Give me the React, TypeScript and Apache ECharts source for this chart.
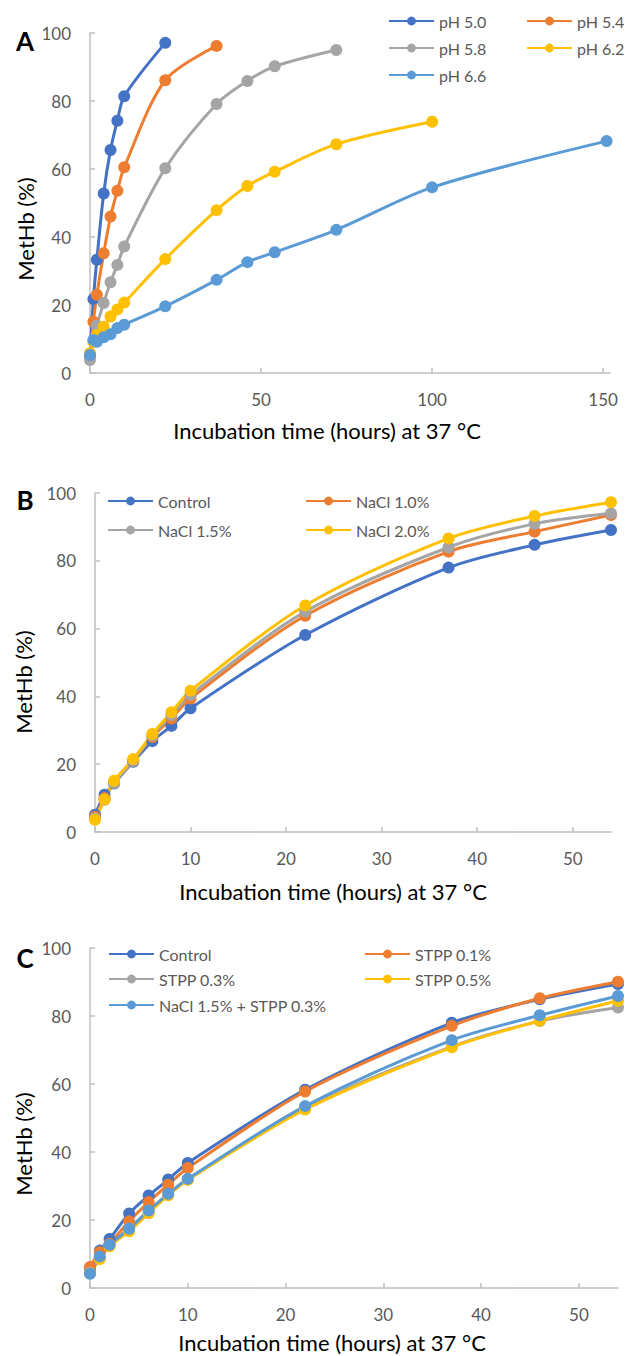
import React, { useEffect, useRef } from "react";
import * as echarts from "echarts";

// ---------- Data ----------
const TIME_A = [0, 1, 2, 4, 6, 8, 10, 22, 37, 46, 54, 72, 100, 151];
const PH_NAMES = ["pH 5.0", "pH 5.4", "pH 5.8", "pH 6.2", "pH 6.6"];
const PH50 = [5.2, 21.8, 33.3, 52.8, 65.6, 74.2, 81.4, 97.1];
const PH54 = [5.0, 15.1, 23.0, 35.2, 46.0, 53.6, 60.5, 86.1, 96.2];
const PH58 = [3.8, 9.5, 14.0, 20.6, 26.7, 31.8, 37.2, 60.2, 79.1, 85.9, 90.2, 95.0];
const PH62 = [5.8, 9.2, 11.2, 13.6, 16.6, 18.7, 20.7, 33.5, 47.9, 55.0, 59.2, 67.3, 73.9];
const PH66 = [5.3, 9.7, 9.2, 10.5, 11.4, 13.2, 14.2, 19.6, 27.4, 32.6, 35.5, 42.1, 54.6, 68.2];

const TIME_BC = [0, 1, 2, 4, 6, 8, 10, 22, 37, 46, 54];
const NACL_NAMES = ["Control", "NaCl 1.0%", "NaCl 1.5%", "NaCl 2.0%"];
const B_CONTROL = [5.1, 11.0, 14.3, 20.7, 26.8, 31.3, 36.5, 58.1, 78.0, 84.7, 89.1];
const B_NACL10 = [4.5, 10.0, 14.5, 21.0, 28.0, 33.5, 39.4, 63.8, 82.7, 88.6, 93.5];
const B_NACL15 = [4.0, 9.5, 14.5, 21.0, 28.5, 34.5, 40.4, 65.0, 84.0, 90.9, 94.0];
const B_NACL20 = [3.6, 9.6, 15.1, 21.5, 28.9, 35.3, 41.7, 66.8, 86.6, 93.2, 97.3];

const STPP_NAMES = ["Control", "STPP 0.1%", "STPP 0.3%", "STPP 0.5%", "NaCl 1.5% + STPP 0.3%"];
const C_CONTROL = [5.5, 11.0, 14.4, 21.9, 27.2, 31.9, 36.8, 58.3, 78.0, 84.9, 89.4];
const C_STPP01 = [6.2, 10.5, 13.0, 19.6, 25.3, 30.4, 35.3, 57.8, 77.1, 85.2, 90.1];
const C_STPP03 = [4.5, 9.0, 12.5, 17.5, 22.5, 27.5, 32.0, 53.0, 71.0, 78.5, 82.5];
const C_STPP05 = [4.3, 8.5, 12.3, 16.7, 22.0, 27.3, 31.8, 52.5, 70.8, 78.6, 84.5];
const C_MIX = [4.2, 9.3, 12.7, 17.4, 22.8, 27.7, 32.1, 53.5, 72.9, 80.2, 85.9];

const Y_TICKS = [0, 20, 40, 60, 80, 100];
const X_TICKS_A = [0, 50, 100, 150];
const X_TICKS_BC = [0, 10, 20, 30, 40, 50];

const X_TITLE = "Incubation time (hours) at 37 °C";
const Y_TITLE = "MetHb (%)";

// ---------- Styles ----------
const C_BLUE = "#4472C4";
const C_ORANGE = "#ED7D31";
const C_GRAY = "#A5A5A5";
const C_YELLOW = "#FFC000";
const C_LBLUE = "#5B9BD5";
const FONT = "Lato, 'Open Sans', sans-serif";
const AXIS_COLOR = "#BFBFBF";
const LABEL_COLOR = "#595959";

const zip = (t: number[], v: number[]) => v.map((y, i) => [t[i], y]);

function mkSeries(name: string, color: string, data: number[][], gridIndex: number) {
  return {
    type: "line",
    name,
    xAxisIndex: gridIndex,
    yAxisIndex: gridIndex,
    data,
    smooth: 0.3,
    symbol: "circle",
    symbolSize: 12,
    showSymbol: true,
    lineStyle: { color, width: 3 },
    itemStyle: { color, borderWidth: 0 },
    emphasis: { disabled: true },
  };
}

function mkX(gridIndex: number, max: number, ticks: number[]) {
  return {
    type: "value",
    gridIndex,
    min: 0,
    max,
    splitLine: { show: false },
    axisLine: { show: true, onZero: false, lineStyle: { color: AXIS_COLOR, width: 1.5 } },
    axisTick: { show: true, inside: true, length: 5, customValues: ticks, lineStyle: { color: AXIS_COLOR, width: 1.5 } },
    axisLabel: { customValues: ticks, color: LABEL_COLOR, fontSize: 17, fontFamily: FONT, margin: 18 },
  };
}

function mkY(gridIndex: number) {
  return {
    type: "value",
    gridIndex,
    min: 0,
    max: 100,
    interval: 20,
    splitLine: { show: false },
    axisLine: { show: true, lineStyle: { color: AXIS_COLOR, width: 1.5 } },
    axisTick: { show: true, inside: true, length: 5, customValues: Y_TICKS, lineStyle: { color: AXIS_COLOR, width: 1.5 } },
    axisLabel: { customValues: Y_TICKS, color: LABEL_COLOR, fontSize: 17, fontFamily: FONT, margin: 19 },
  };
}

function mkLegend(name: string, left: number, rowY: number) {
  return {
    data: [name],
    left,
    top: rowY - 9,
    padding: 0,
    itemWidth: 45,
    itemHeight: 11,
    itemGap: 0,
    selectedMode: false,
    textStyle: { color: LABEL_COLOR, fontSize: 16, fontFamily: FONT, padding: [0, 0, 0, 0] },
  };
}

function txt(text: string, x: number, y: number, size: number, opts: any = {}) {
  return {
    type: "text",
    x,
    y,
    rotation: opts.rotation || 0,
    style: {
      text,
      fill: opts.fill || "#000",
      font: `${opts.weight || "normal"} ${size}px ${FONT}`,
      align: "center",
      verticalAlign: "middle",
    },
  };
}

export default function App() {
  const ref = useRef<HTMLDivElement>(null);
  useEffect(() => {
    if (!ref.current) return;
    const chart = echarts.init(ref.current, undefined, { renderer: "svg" });
    const option = {
      animation: false,
      backgroundColor: "#ffffff",
      grid: [
        { left: 90, top: 33, width: 520, height: 340 },
        { left: 95, top: 493, width: 516, height: 339 },
        { left: 90, top: 948, width: 528, height: 340 },
      ],
      xAxis: [mkX(0, 152, X_TICKS_A), mkX(1, 54, X_TICKS_BC), mkX(2, 54, X_TICKS_BC)],
      yAxis: [mkY(0), mkY(1), mkY(2)],
      legend: [
        mkLegend(PH_NAMES[0], 388, 22),
        mkLegend(PH_NAMES[1], 526, 22),
        mkLegend(PH_NAMES[2], 388, 49),
        mkLegend(PH_NAMES[3], 526, 49),
        mkLegend(PH_NAMES[4], 388, 76),
        mkLegend(NACL_NAMES[0], 107, 502),
        mkLegend(NACL_NAMES[1], 305, 502),
        mkLegend(NACL_NAMES[2], 107, 531),
        mkLegend(NACL_NAMES[3], 305, 531),
        mkLegend(STPP_NAMES[0], 108, 955),
        mkLegend(STPP_NAMES[1], 364, 955),
        mkLegend(STPP_NAMES[2], 108, 980),
        mkLegend(STPP_NAMES[3], 364, 980),
        mkLegend(STPP_NAMES[4], 108, 1006),
      ],
      series: [
        mkSeries(PH_NAMES[0], C_BLUE, zip(TIME_A, PH50), 0),
        mkSeries(PH_NAMES[1], C_ORANGE, zip(TIME_A, PH54), 0),
        mkSeries(PH_NAMES[2], C_GRAY, zip(TIME_A, PH58), 0),
        mkSeries(PH_NAMES[3], C_YELLOW, zip(TIME_A, PH62), 0),
        mkSeries(PH_NAMES[4], C_LBLUE, zip(TIME_A, PH66), 0),
        mkSeries(NACL_NAMES[0], C_BLUE, zip(TIME_BC, B_CONTROL), 1),
        mkSeries(NACL_NAMES[1], C_ORANGE, zip(TIME_BC, B_NACL10), 1),
        mkSeries(NACL_NAMES[2], C_GRAY, zip(TIME_BC, B_NACL15), 1),
        mkSeries(NACL_NAMES[3], C_YELLOW, zip(TIME_BC, B_NACL20), 1),
        mkSeries(STPP_NAMES[0], C_BLUE, zip(TIME_BC, C_CONTROL), 2),
        mkSeries(STPP_NAMES[1], C_ORANGE, zip(TIME_BC, C_STPP01), 2),
        mkSeries(STPP_NAMES[2], C_GRAY, zip(TIME_BC, C_STPP03), 2),
        mkSeries(STPP_NAMES[3], C_YELLOW, zip(TIME_BC, C_STPP05), 2),
        mkSeries(STPP_NAMES[4], C_LBLUE, zip(TIME_BC, C_MIX), 2),
      ],
      graphic: [
        txt("A", 25, 41, 26, { weight: "bold" }),
        txt("B", 25, 500, 26, { weight: "bold" }),
        txt("C", 25, 958, 26, { weight: "bold" }),
        txt(X_TITLE, 327, 430, 22),
        txt(X_TITLE, 333, 891, 22),
        txt(X_TITLE, 332, 1342, 22),
        txt(Y_TITLE, 25, 229, 22, { rotation: Math.PI / 2 }),
        txt(Y_TITLE, 23, 682, 22, { rotation: Math.PI / 2 }),
        txt(Y_TITLE, 23, 1144, 22, { rotation: Math.PI / 2 }),
      ],
    };
    chart.setOption(option as any);
    return () => chart.dispose();
  }, []);
  return (
    <div
      ref={ref}
      style={{ position: "absolute", left: 0, top: 0, width: 627, height: 1356, background: "#fff" }}
    />
  );
}
